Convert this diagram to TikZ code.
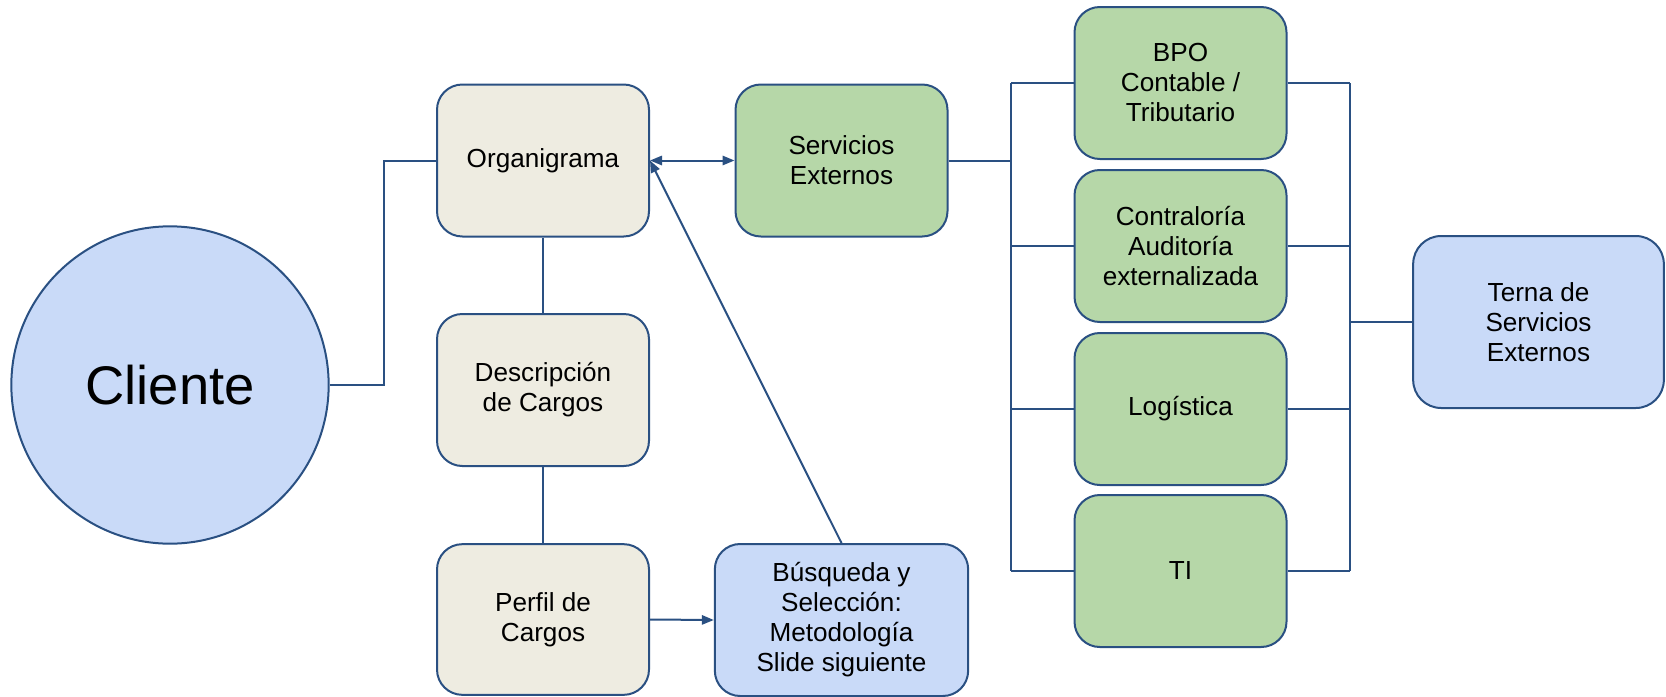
\documentclass[tikz,border=0pt]{standalone}
\usepackage{fontspec}
\setmainfont{Liberation Sans}
\usetikzlibrary{arrows.meta}
\definecolor{linea}{HTML}{2A5082}
\definecolor{beige}{HTML}{EEECE1}
\definecolor{verde}{HTML}{B6D7A8}
\definecolor{celeste}{HTML}{C9DAF8}
\tikzset{
  caja/.style={draw=linea, line width=1.5pt, rounded corners=19pt, align=center,
    minimum width=159pt, minimum height=114pt, inner sep=2pt,
    font=\fontsize{19.6pt}{22.5pt}\selectfont},
  conector/.style={draw=linea, line width=1.5pt},
  flecha/.style={conector, -{Triangle[length=9pt,width=7pt]}},
}
\begin{document}
\begin{tikzpicture}[x=0.75pt,y=-0.75pt]
            \useasboundingbox (0,0) rectangle (1666,696);
            % Cliente
            \node (cliente) [circle, draw=linea, line width=1.5pt, fill=celeste,
              minimum size=238pt, font=\fontsize{40.8pt}{46pt}\selectfont] at (170,385) {Cliente};
            % Columna izquierda
            \node (org) [caja, fill=beige] at (543,160.5) {Organigrama};
            \node (desc) [caja, fill=beige] at (543,390) {Descripción\\de Cargos};
            \node (perfil) [caja, fill=beige, minimum height=113pt] at (543,619.5) {Perfil de\\Cargos};
            \node (serv) [caja, fill=verde] at (841.5,160.5) {Servicios\\Externos};
            \node (busq) [caja, fill=celeste, minimum width=190pt] at (841.5,620)
              {Búsqueda y\\Selección:\\Metodología\\Slide siguiente};
            % Servicios externos
            \node (bpo) [caja, fill=verde] at (1180.5,83) {BPO\\Contable /\\Tributario};
            \node (contr) [caja, fill=verde] at (1180.5,246) {Contraloría\\Auditoría\\externalizada};
            \node (logi) [caja, fill=verde] at (1180.5,409) {Logística};
            \node (ti) [caja, fill=verde] at (1180.5,571) {TI};
            \node (terna) [caja, fill=celeste, minimum width=188pt, minimum height=129pt,
              rounded corners=21pt] at (1538.5,322) {Terna de\\Servicios\\Externos};
            % Conectores
            \draw [conector] (cliente.east) -- ++(54,0) |- (org.west);
            \draw [conector] (org.south) -- (desc.north);
            \draw [conector] (desc.south) -- (perfil.north);
            \draw [flecha] (perfil.east) -- (busq.west);
            \draw [flecha] (busq.north) -- (org.east);
            \draw [conector, {Triangle[length=9pt,width=7pt]}-{Triangle[length=9pt,width=7pt]}]%
              (org.east) -- (serv.west);
            \coordinate (lbus) at (1011,160.5);
            \coordinate (rbus) at (1350,322);
            \draw [conector] (serv.east) -- (lbus);
            \draw [conector] (lbus |- bpo.west) -- (lbus |- ti.west);
            \draw [conector] (rbus |- bpo.east) -- (rbus |- ti.east);
            \foreach \n in {bpo,contr,logi,ti} {
              \draw [conector] (\n.west) -- (\n.west -| lbus);
              \draw [conector] (\n.east) -- (\n.east -| rbus);
            }
            \draw [conector] (rbus) -- (terna.west);
        \end{tikzpicture}
\end{document}
